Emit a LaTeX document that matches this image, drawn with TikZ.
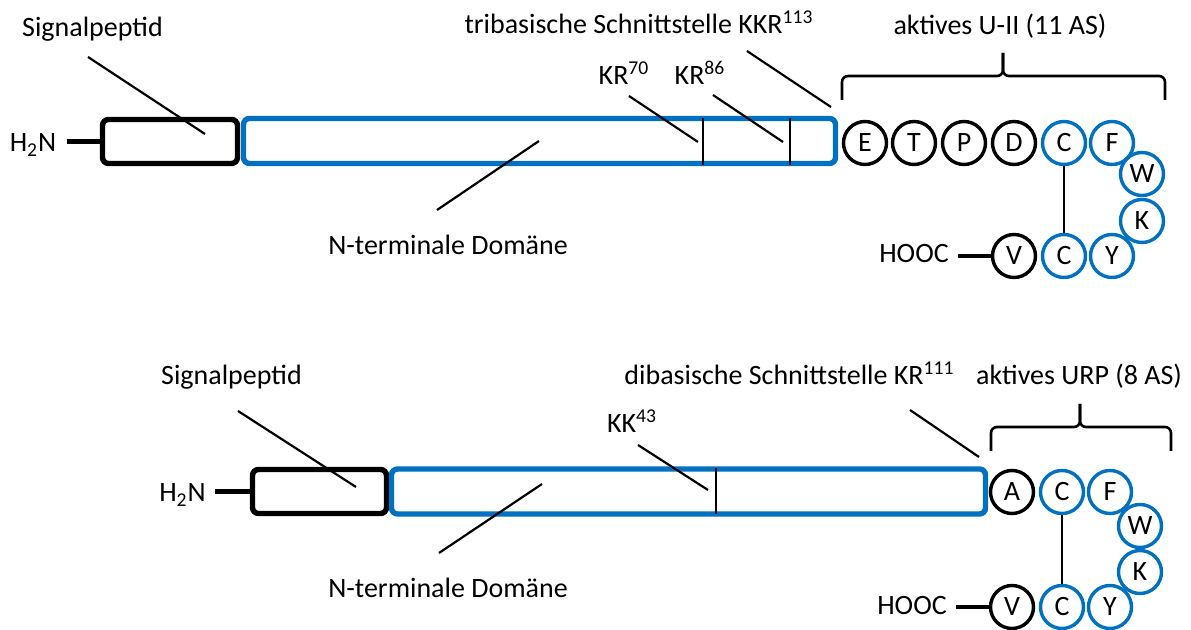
\documentclass[tikz,border=0pt]{standalone}
\usepackage{fontspec}
\setmainfont{Carlito}
\definecolor{aablue}{RGB}{0,112,192}
\def\labelsize{\fontsize{14}{17}\selectfont}

\begin{document}
\begin{tikzpicture}[x=0.5pt, y=-0.5pt,
    every node/.style={font=\labelsize},
    txt/.style={anchor=base, inner sep=0pt},
    spbox/.style={draw=black, line width=2.7pt, rounded corners=3pt, minimum height=22pt, inner sep=0pt},
    ntbox/.style={draw=aablue, line width=2.7pt, rounded corners=3pt, minimum height=22.5pt, inner sep=0pt},
    aa/.style={circle, draw=black, line width=1.7pt, minimum size=21.5pt, inner sep=0pt},
    aab/.style={aa, draw=aablue},
    leader/.style={line width=1.1pt},
    bond/.style={line width=2.2pt},
    cut/.style={line width=1.4pt},
    brace/.style={line width=1.3pt, rounded corners=3pt}]
  \useasboundingbox (0,0) rectangle (1191,630);

  % U-II
  \node[spbox, minimum width=67.5pt] (sp1) at (170,141.5) {};
  \node[ntbox, minimum width=296pt] (nt1) at (539.5,141) {};
  \node[txt] (h2n1) at (33,152) {H\textsubscript{2}N};
  \draw[bond] ([xshift=5pt]h2n1.east |- sp1.west) -- (sp1.west);
  \draw[cut] (703,118) -- (703,165);
  \draw[cut] (790,118) -- (790,165);

  \node[txt] (sig1) at (92.5,37) {Signalpeptid};
  \node[txt] (ntd1) at (448,255) {N-terminale Domäne};
  \node[txt] (kr70) at (624,85) {KR\textsuperscript{70}};
  \node[txt] (kr86) at (700,85) {KR\textsuperscript{86}};
  \node[txt] (tri) at (639,34) {tribasische Schnittstelle KKR\textsuperscript{113}};
  \node[txt] (act1) at (1000,35) {aktives U-II (11 AS)};

  \coordinate (sigA1) at (88,57);   \coordinate (sigB1) at (205,134);
  \coordinate (ntdA1) at (437,210); \coordinate (ntdB1) at (539,141);
  \coordinate (kr70A) at (629,96);  \coordinate (kr70B) at (698,142);
  \coordinate (kr86A) at (713,95);  \coordinate (kr86B) at (783,142);
  \coordinate (triA) at (747,51);   \coordinate (triB) at (831,107);
  \draw[leader] (sigA1) -- (sigB1);
  \draw[leader] (ntdA1) -- (ntdB1);
  \draw[leader] (kr70A) -- (kr70B);
  \draw[leader] (kr86A) -- (kr86B);
  \draw[leader] (triA) -- (triB);

  \draw[brace] (842,100) -- (842,76) -- (1003,76) -- (1003,53);
  \draw[brace] (1165,100) -- (1165,76) -- (1003,76) -- (1003,53);

  \foreach \x/\l/\n in {865/E/e1, 914/T/t1, 964/P/p1, 1014/D/d1}
    \node[aa] (\n) at (\x,143) {\l};
  \node[aab] (c1) at (1064,143) {C};
  \node[aab] (f1) at (1112,143) {F};
  \node[aab] (w1) at (1142,174) {W};
  \node[aab] (k1) at (1142,221) {K};
  \node[aab] (y1) at (1112,256) {Y};
  \node[aab] (cc1) at (1064,256) {C};
  \node[aa] (v1) at (1014,256) {V};
  \node[txt] (hooc1) at (914,263) {HOOC};
  \draw[bond] ([xshift=4.5pt]hooc1.east |- v1.west) -- (v1.west);
  \draw[cut] (c1) -- (cc1);

  % URP
  \node[spbox, minimum width=67pt] (sp2) at (319.5,491.5) {};
  \node[ntbox, minimum width=297pt] (nt2) at (688.5,491.5) {};
  \node[txt] (h2n2) at (182.5,502) {H\textsubscript{2}N};
  \draw[bond] ([xshift=4.5pt]h2n2.east |- sp2.west) -- (sp2.west);
  \draw[cut] (716,468) -- (716,514);

  \node[txt] (sig2) at (231.5,385) {Signalpeptid};
  \node[txt] (ntd2) at (448,598) {N-terminale Domäne};
  \node[txt] (kk43) at (632,433) {KK\textsuperscript{43}};
  \node[txt] (dib) at (789.5,385) {dibasische Schnittstelle KR\textsuperscript{111}};
  \node[txt] (act2) at (1079,385) {aktives URP (8 AS)};

  \coordinate (sigA2) at (238,411); \coordinate (sigB2) at (356,487);
  \coordinate (ntdA2) at (439,553); \coordinate (ntdB2) at (542,484);
  \coordinate (kk43A) at (638,445); \coordinate (kk43B) at (708,490);
  \coordinate (dibA) at (910,410);  \coordinate (dibB) at (979,457);
  \draw[leader] (sigA2) -- (sigB2);
  \draw[leader] (ntdA2) -- (ntdB2);
  \draw[leader] (kk43A) -- (kk43B);
  \draw[leader] (dibA) -- (dibB);

  \draw[brace] (991,451) -- (991,427) -- (1080,427) -- (1080,404);
  \draw[brace] (1171,451) -- (1171,427) -- (1080,427) -- (1080,404);

  \node[aa] (a2) at (1012,492) {A};
  \node[aab] (c2) at (1062,492) {C};
  \node[aab] (f2) at (1110,492) {F};
  \node[aab] (w2) at (1140,526) {W};
  \node[aab] (k2) at (1140,572) {K};
  \node[aab] (y2) at (1110,607) {Y};
  \node[aab] (cc2) at (1062,607) {C};
  \node[aa] (v2) at (1012,607) {V};
  \node[txt] (hooc2) at (912,615) {HOOC};
  \draw[bond] ([xshift=4.5pt]hooc2.east |- v2.west) -- (v2.west);
  \draw[cut] (c2) -- (cc2);
\end{tikzpicture}
\end{document}
